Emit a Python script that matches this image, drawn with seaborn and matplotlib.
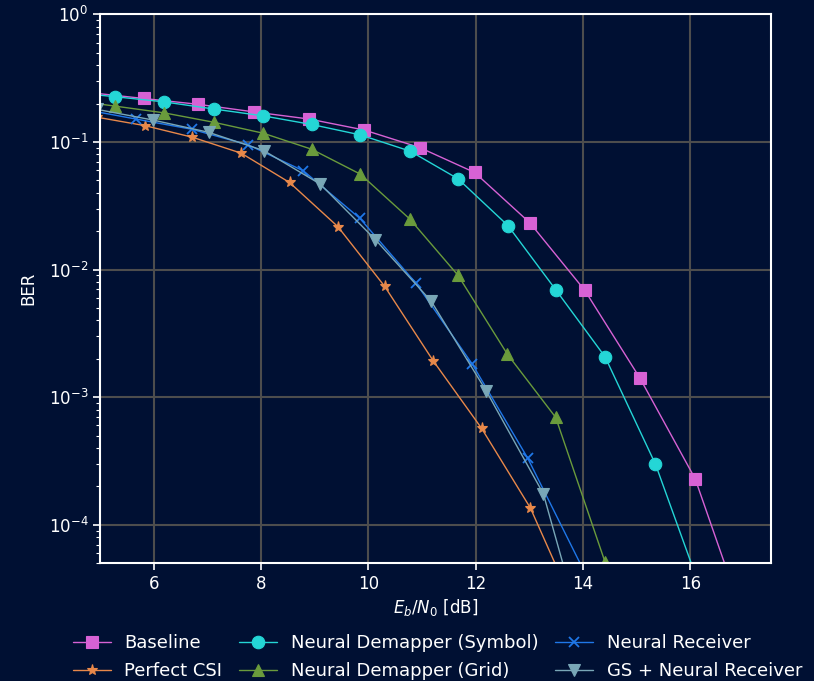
import numpy as np
import pandas as pd
import matplotlib
matplotlib.use("Agg")
import matplotlib.pyplot as plt
import seaborn as sns

# values (Eb/N0 in dB, BER)
ebno_baseline = [4.78, 5.81, 6.83, 7.86, 8.90, 9.92, 10.96, 11.98, 13.01, 14.03, 15.06, 16.09, 17.12]
ber_baseline = [0.244, 0.219, 0.197, 0.172, 0.151, 0.124, 0.0902, 0.0576, 0.0232, 0.00689, 0.00141, 0.000229, 1.3e-5]

ebno_csi = [4.95, 5.84, 6.72, 7.63, 8.53, 9.43, 10.30, 11.21, 12.11, 13.02, 13.92]
ber_csi = [0.156, 0.134, 0.1088, 0.0816, 0.0481, 0.0217, 0.00741, 0.00192, 0.000569, 0.000135, 1.9e-5]

ebno_symbol = [4.37, 5.28, 6.19, 7.12, 8.04, 8.94, 9.85, 10.78, 11.67, 12.60, 13.50, 14.41, 15.35, 16.26]
ber_symbol = [0.247, 0.226, 0.206, 0.181, 0.160, 0.137, 0.1135, 0.0846, 0.0514, 0.0221, 0.00686, 0.00207, 0.000298, 2.6e-5]

ebno_grid = [4.36, 5.27, 6.19, 7.12, 8.04, 8.94, 9.85, 10.77, 11.67, 12.59, 13.49, 14.41]
ber_grid = [0.215, 0.191, 0.169, 0.1425, 0.117, 0.0877, 0.0559, 0.0249, 0.00901, 0.00217, 0.000694, 5.1e-5]

ebno_nr = [4.63, 5.67, 6.71, 7.76, 8.79, 9.84, 10.89, 11.93, 12.97, 14.01]
ber_nr = [0.182, 0.151, 0.1256, 0.0948, 0.0593, 0.0252, 0.00778, 0.00183, 0.000332, 4.4e-5]

ebno_gs = [4.94, 5.98, 7.02, 8.05, 9.10, 10.13, 11.17, 12.20, 13.26, 14.29]
ber_gs = [0.18, 0.1485, 0.119, 0.0855, 0.0468, 0.01715, 0.00565, 0.00111, 0.000175, 5e-6]

# legend order (column-wise fill with ncol=3)
series = [
    ("Baseline", ebno_baseline, ber_baseline, "#d762d5", "s", 9),
    ("Perfect CSI", ebno_csi, ber_csi, "#e8884a", "*", 8),
    ("Neural Demapper (Symbol)", ebno_symbol, ber_symbol, "#24d6d6", "o", 9),
    ("Neural Demapper (Grid)", ebno_grid, ber_grid, "#6a9b3c", "^", 9),
    ("Neural Receiver", ebno_nr, ber_nr, "#1f77e8", "x", 7),
    ("GS + Neural Receiver", ebno_gs, ber_gs, "#79a7b7", "v", 9),
]

bg = "#001033"
sns.set_style("dark")
plt.rcParams["font.family"] = ["DejaVu Sans"]

fig = plt.figure(figsize=(8.14, 6.81), dpi=100, facecolor=bg)
ax = fig.add_axes([0.123, 0.173, 0.824, 0.806])
ax.set_facecolor(bg)

for name, x, y, c, m, ms in series:
    df = pd.DataFrame({"ebno": x, "ber": y})
    sns.lineplot(data=df, x="ebno", y="ber", ax=ax, color=c, marker=m,
                 markersize=ms, markeredgecolor=c, markeredgewidth=1.3 if m == "x" else 0.8,
                 linewidth=1.0, label=name, estimator=None, sort=True)

ax.set_yscale("log")
ax.set_xlim(5, 17.5)
ax.set_ylim(5e-5, 1)
ax.set_xticks([6, 8, 10, 12, 14, 16])

ax.grid(True, which="major", color="#4d4d4d", linewidth=1.5)
ax.grid(False, which="minor")
ax.set_axisbelow(True)
for s in ax.spines.values():
    s.set_color("white")
    s.set_linewidth(1.5)
    s.set_visible(True)

ax.tick_params(axis="both", which="major", colors="white", labelsize=12,
               direction="out", length=5, width=1.2, bottom=True, left=True)
ax.tick_params(axis="y", which="minor", colors="white", direction="out",
               length=3, width=0.8, left=True)

ax.set_xlabel("$E_b/N_0$ [dB]", color="white", fontsize=12, labelpad=3)
ax.set_ylabel("BER", color="white", fontsize=12, labelpad=8)

leg = ax.legend(loc="upper center", bbox_to_anchor=(0.503, -0.1), ncol=3,
                frameon=False, fontsize=13, handlelength=2.1, columnspacing=0.95,
                handletextpad=0.75, labelspacing=0.55)
for t in leg.get_texts():
    t.set_color("white")

fig.savefig("out.png", dpi=100, facecolor=bg)
